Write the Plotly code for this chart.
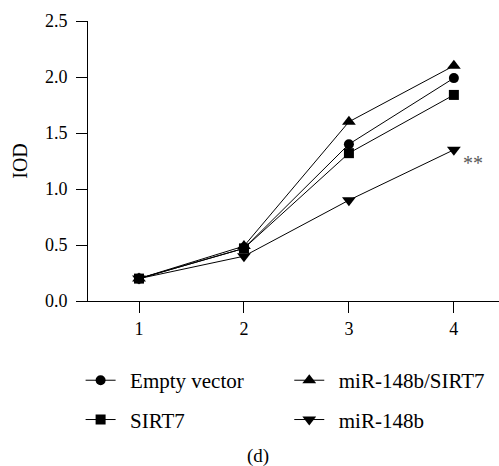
import plotly.graph_objects as go

days = [1, 2, 3, 4]
empty_vector = [0.20, 0.47, 1.40, 1.99]
mir_sirt7 = [0.20, 0.49, 1.60, 2.10]
sirt7 = [0.20, 0.47, 1.32, 1.84]
mir148b = [0.20, 0.40, 0.90, 1.35]
y_ticks = [0.0, 0.5, 1.0, 1.5, 2.0, 2.5]
y_tick_labels = ["0.0", "0.5", "1.0", "1.5", "2.0", "2.5"]

FONT = "Liberation Serif"

series = [
    ("Empty vector", empty_vector, "circle", 10, "legend", "g1"),
    ("miR-148b/SIRT7", mir_sirt7, "triangle-up", 12, "legend2", "g2"),
    ("SIRT7", sirt7, "square", 10, "legend", "g3"),
    ("miR-148b", mir148b, "triangle-down", 12, "legend2", "g4"),
]

fig = go.Figure()
for name, vals, sym, sz, leg, grp in series:
    fig.add_trace(go.Scatter(
        x=days, y=vals, name=" \u2009" + name, mode="lines+markers",
        line=dict(color="black", width=1),
        marker=dict(symbol=sym, size=sz, color="black"),
        legend=leg, legendgroup=grp,
    ))

fig.add_annotation(x=4, y=mir148b[3], text="**", showarrow=False,
                   xanchor="left", yanchor="middle", xshift=7, yshift=-13,
                   font=dict(family=FONT, size=20, color="#5a5a5a"))
fig.add_annotation(x=0.414, y=-0.555, xref="paper", yref="paper", text="(d)",
                   showarrow=False, xanchor="center", yanchor="middle",
                   font=dict(family=FONT, size=19, color="black"))

legend_common = dict(
    orientation="v", xanchor="left", yanchor="top",
    font=dict(family=FONT, size=21, color="black"),
    bgcolor="rgba(0,0,0,0)", tracegroupgap=9, itemwidth=30,
)

fig.update_layout(
    width=499, height=466,
    margin=dict(l=88, r=0, t=21, b=165),
    plot_bgcolor="white", paper_bgcolor="white",
    font=dict(family=FONT, size=18, color="black"),
    xaxis=dict(range=[0.514, 4.43], tickvals=days, ticktext=[str(d) for d in days],
               showline=True, linecolor="black", linewidth=1, ticks="outside",
               ticklen=11, tickcolor="black", showgrid=False, zeroline=False,
               tickfont=dict(family=FONT, size=18)),
    yaxis=dict(range=[0, 2.5], tickvals=y_ticks, ticktext=y_tick_labels,
               showline=True, linecolor="black", linewidth=1, ticks="outside",
               ticklen=11, tickcolor="black", showgrid=False, zeroline=False,
               tickfont=dict(family=FONT, size=18), ticklabelstandoff=5,
               title=dict(text="IOD", font=dict(family=FONT, size=20), standoff=11)),
    legend=dict(x=-0.018, y=-0.211, **legend_common),
    legend2=dict(x=0.4897, y=-0.211, **legend_common),
)

fig.write_html("out.html", config={"displayModeBar": False},
               post_script="document.body.style.margin='0px';")
